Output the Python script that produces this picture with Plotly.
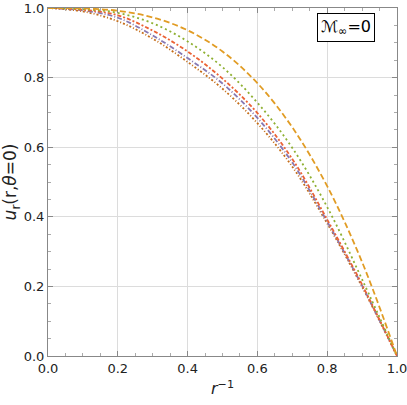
import plotly.graph_objects as go

# inverse radius r^-1
x = [0.0, 0.1, 0.2, 0.3, 0.4, 0.5, 0.6, 0.7, 0.8, 0.9, 1.0]

# u_r(r, theta=0) curves
u_orange = [1.0, 0.999, 0.992, 0.973, 0.936, 0.875, 0.784, 0.657, 0.488, 0.270, 0.0]
u_green = [1.0, 0.997, 0.986, 0.956, 0.904, 0.830, 0.728, 0.598, 0.428, 0.220, 0.0]
u_red = [1.0, 0.995, 0.979, 0.935, 0.875, 0.797, 0.698, 0.566, 0.392, 0.205, 0.0]
u_purple = [1.0, 0.993, 0.972, 0.921, 0.856, 0.783, 0.684, 0.556, 0.386, 0.202, 0.0]
u_brown = [1.0, 0.990, 0.962, 0.912, 0.845, 0.768, 0.669, 0.544, 0.381, 0.199, 0.0]

series = [
    (u_brown, '#C56E1A', '2px,2px,1px,2px'),
    (u_purple, '#8778B3', '5px,2px,1px,2px'),
    (u_red, '#EB6235', '4px,2px,2px,2px'),
    (u_green, '#8FB032', '2px,3px'),
    (u_orange, '#E19C24', '6px,3px'),
]

fig = go.Figure()
for ys, col, dash in series:
    fig.add_trace(go.Scatter(x=x, y=ys, mode='lines', line_shape='spline',
                             line=dict(color=col, width=1.8, dash=dash),
                             showlegend=False, hoverinfo='skip'))

axis_common = dict(
    range=[0, 1], dtick=0.2, tickformat='.1f', automargin=False,
    showgrid=True, gridcolor='#dcdcdc', gridwidth=1,
    zeroline=False, showline=True, linecolor='#888888', linewidth=1, mirror='ticks',
    ticks='inside', ticklen=5, tickcolor='#888888', ticklabeloverflow='allow',
    minor=dict(ticks='inside', dtick=0.05, ticklen=3, tickcolor='#aaaaaa', showgrid=False),
    tickfont=dict(family='DejaVu Sans', size=13, color='#222222'),
)

fig.update_layout(
    width=407, height=405,
    margin=dict(l=48, r=10, t=8, b=49),
    paper_bgcolor='white', plot_bgcolor='white',
    xaxis=dict(axis_common, title=dict(text='<i>r</i><sup>−1</sup>', standoff=8,
                                       font=dict(family='DejaVu Sans', size=16, color='#222222'))),
    yaxis=dict(axis_common, title=dict(text='<i>u</i><sub>r</sub>(r,<i>θ</i>=0)', standoff=2,
                                       font=dict(family='DejaVu Sans', size=17, color='#222222'))),
    annotations=[dict(
        x=0.854, y=0.985, xref='paper', yref='paper', xanchor='center', yanchor='top',
        text='ℳ<sub>∞</sub>=0', showarrow=False,
        font=dict(family='DejaVu Sans', size=16, color='black'),
        bordercolor='black', borderwidth=1, borderpad=3, bgcolor='white',
    )],
)

# page body has a default 8px margin; drop it so the figure sits at the corner
fig.write_html("out.html", config={'displayModeBar': False},
               post_script="document.body.style.margin='0';")
